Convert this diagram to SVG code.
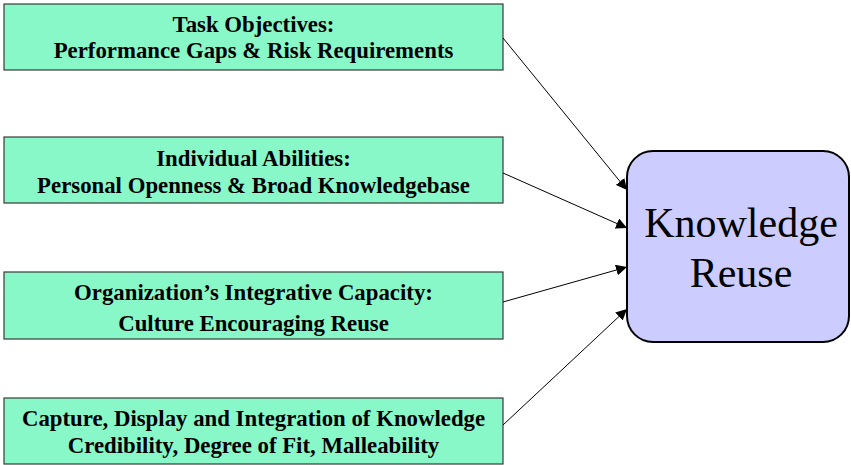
<svg xmlns="http://www.w3.org/2000/svg" width="851" height="465" viewBox="0 0 851 465">
  <style>
    .factor { fill: #88f8c8; stroke: #3a3a3a; stroke-width: 1.2; }
    .flabel { font-family: "Liberation Serif", "Times New Roman", serif; font-weight: bold; font-size: 22.8px; fill: #000; text-anchor: middle; }
    .target { fill: #ccccff; stroke: #000; stroke-width: 2; }
    .tlabel { font-family: "Liberation Serif", "Times New Roman", serif; font-size: 42px; fill: #000; text-anchor: middle; }
    .link { stroke: #000; stroke-width: 1; fill: none; marker-end: url(#arrow); }
  </style>
  <defs>
    <marker id="arrow" viewBox="0 0 10 10" refX="10" refY="5" markerWidth="11" markerHeight="11" markerUnits="userSpaceOnUse" orient="auto">
      <path d="M0,0 L10,5 L0,10 z" fill="#000"/>
    </marker>
  </defs>
  <rect width="851" height="465" fill="#fff"/>

  <g id="task-objectives">
    <rect class="factor" x="4" y="4" width="499" height="66"/>
    <text class="flabel" x="253.5" y="32">Task Objectives:</text>
    <text class="flabel" x="253.5" y="58">Performance Gaps &amp; Risk Requirements</text>
  </g>

  <g id="individual-abilities">
    <rect class="factor" x="4" y="137" width="499" height="66"/>
    <text class="flabel" x="253.5" y="166">Individual Abilities:</text>
    <text class="flabel" x="253.5" y="193">Personal Openness &amp; Broad Knowledgebase</text>
  </g>

  <g id="integrative-capacity">
    <rect class="factor" x="4" y="272" width="499" height="67"/>
    <text class="flabel" x="253.5" y="300">Organization’s Integrative Capacity:</text>
    <text class="flabel" x="253.5" y="331">Culture Encouraging Reuse</text>
  </g>

  <g id="knowledge-integration">
    <rect class="factor" x="4" y="398" width="499" height="66"/>
    <text class="flabel" x="253.5" y="426">Capture, Display and Integration of Knowledge</text>
    <text class="flabel" x="253.5" y="453">Credibility, Degree of Fit, Malleability</text>
  </g>

  <g id="knowledge-reuse">
    <rect class="target" x="627" y="151" width="222" height="191" rx="26" ry="26"/>
    <text class="tlabel" x="741" y="237">Knowledge</text>
    <text class="tlabel" x="741" y="287">Reuse</text>
  </g>

  <g id="connectors">
    <line class="link" x1="503" y1="38" x2="627" y2="190"/>
    <line class="link" x1="503" y1="173" x2="627" y2="228"/>
    <line class="link" x1="503" y1="302" x2="627" y2="267"/>
    <line class="link" x1="503" y1="425" x2="627" y2="309"/>
  </g>
</svg>
